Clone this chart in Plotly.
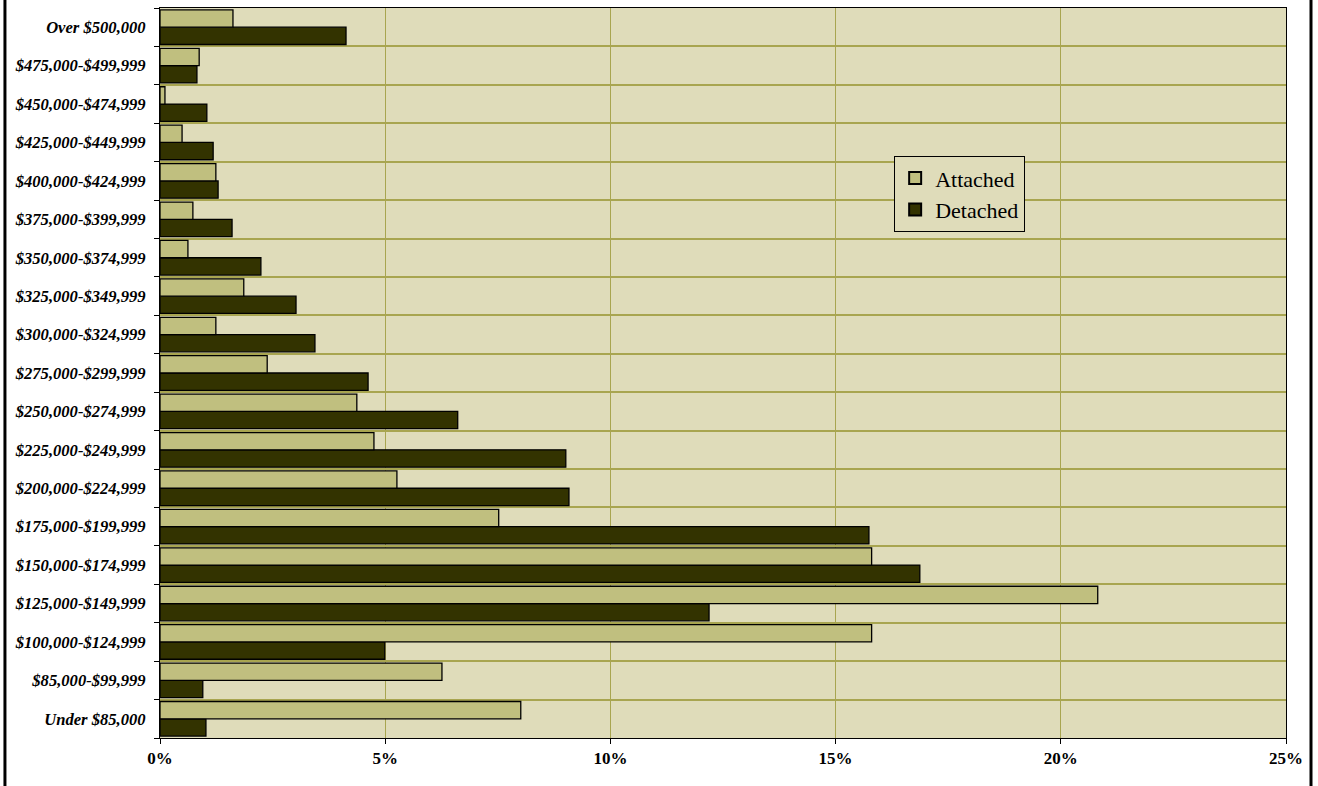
import plotly.graph_objects as go

# Price bands, listed bottom to top as they appear on the axis
price_bands = [
    "Under $85,000", "$85,000-$99,999", "$100,000-$124,999", "$125,000-$149,999",
    "$150,000-$174,999", "$175,000-$199,999", "$200,000-$224,999", "$225,000-$249,999",
    "$250,000-$274,999", "$275,000-$299,999", "$300,000-$324,999", "$325,000-$349,999",
    "$350,000-$374,999", "$375,000-$399,999", "$400,000-$424,999", "$425,000-$449,999",
    "$450,000-$474,999", "$475,000-$499,999", "Over $500,000",
]

# Share of sales (%) in each band
attached = [8.01, 6.26, 15.80, 20.82, 15.80, 7.52, 5.26, 4.75, 4.37, 2.38,
            1.24, 1.86, 0.62, 0.73, 1.24, 0.49, 0.11, 0.87, 1.62]
detached = [1.02, 0.95, 4.99, 12.19, 16.87, 15.74, 9.08, 9.01, 6.61, 4.62,
            3.44, 3.02, 2.24, 1.60, 1.29, 1.18, 1.04, 0.82, 4.13]

x_ticks = [0, 5, 10, 15, 20, 25]
x_tick_labels = ["0%", "5%", "10%", "15%", "20%", "25%"]

PLOT_BG = "#DFDCBA"
GRID = "#A8A550"
SERIF = "Liberation Serif, Times New Roman, serif"

fig = go.Figure()
# Detached first so it sits in the lower slot of each band
fig.add_trace(go.Bar(
    name="Detached", y=price_bands, x=detached, orientation="h",
    marker=dict(color="#333300", line=dict(color="#000000", width=1.3)),
))
fig.add_trace(go.Bar(
    name="Attached", y=price_bands, x=attached, orientation="h",
    marker=dict(color="#C0BF7F", line=dict(color="#000000", width=1.3)),
))

fig.update_layout(
    width=1318, height=786,
    margin=dict(l=160, r=32, t=8, b=48),
    paper_bgcolor="white", plot_bgcolor=PLOT_BG,
    barmode="group", bargap=0.1, bargroupgap=0.0,
    showlegend=True,
    legend=dict(
        x=0.652, y=0.797, xanchor="left", yanchor="top",
        traceorder="reversed",
        bgcolor=PLOT_BG, bordercolor="#000000", borderwidth=1,
        font=dict(family=SERIF, size=22, color="#000000"),
        itemsizing="constant", itemwidth=30, tracegroupgap=0,
    ),
    xaxis=dict(
        range=[0, 25], tickvals=x_ticks, ticktext=x_tick_labels,
        showgrid=True, gridcolor=GRID, gridwidth=1,
        showline=True, linecolor="#000000", linewidth=1, mirror=True,
        ticks="outside", ticklen=5, tickcolor="#000000",
        tickfont=dict(family=SERIF, size=17, color="#000000", weight="bold"),
        zeroline=False,
    ),
    yaxis=dict(
        type="category", categoryorder="array", categoryarray=price_bands,
        tickson="boundaries", showgrid=True, gridcolor=GRID, gridwidth=1.5,
        showline=True, linecolor="#000000", linewidth=1, mirror=True,
        ticks="outside", ticklen=5, tickcolor="#000000",
        tickfont=dict(family=SERIF, size=16.6, color="#000000", weight="bold", style="italic"),
        ticklabelstandoff=10,
    ),
    shapes=[
        dict(type="line", xref="paper", yref="paper", x0=-0.1377, x1=-0.1377,
             y0=-0.1, y1=1.1, line=dict(color="#000000", width=3)),
        dict(type="line", xref="paper", yref="paper", x0=1.0222, x1=1.0222,
             y0=-0.1, y1=1.1, line=dict(color="#000000", width=3)),
    ],
)

fig.write_html("out.html")
